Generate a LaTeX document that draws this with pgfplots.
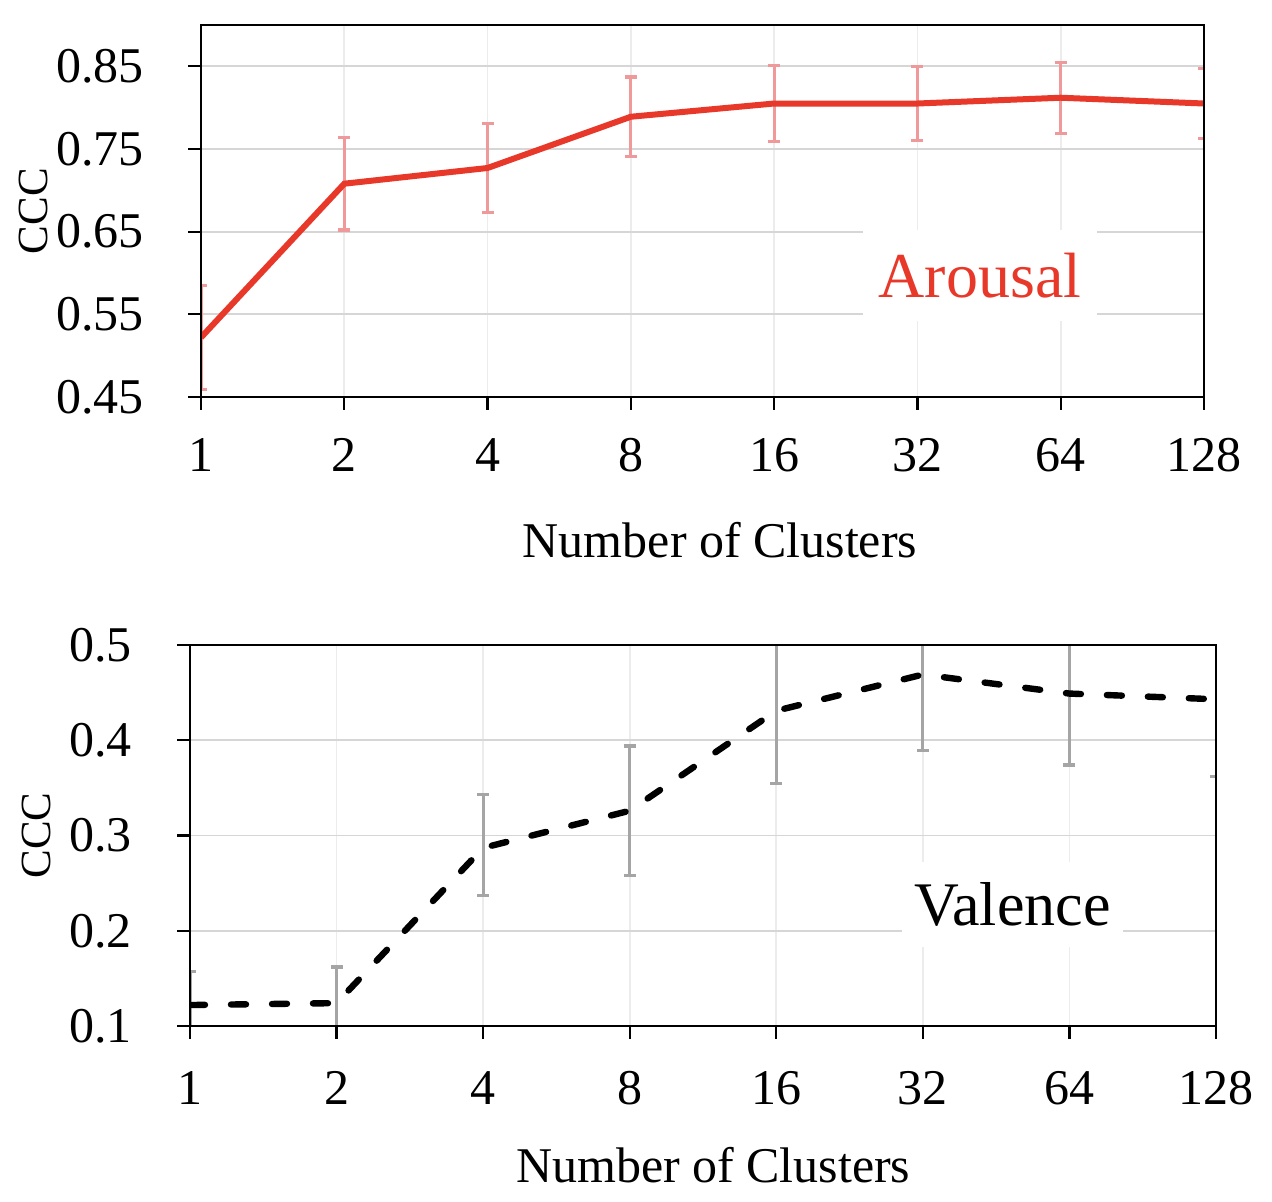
\documentclass[border=0pt]{standalone}
\usepackage{fontspec}
\setmainfont{Liberation Serif}
\usepackage{pgfplots}
\pgfplotsset{compat=1.18}
\definecolor{aro}{HTML}{E8382A}
\definecolor{aroerr}{HTML}{F0999A}
\definecolor{valerr}{HTML}{A5A5A5}
\definecolor{hgrid}{HTML}{D6D6D6}
\definecolor{vgrid}{HTML}{ECECEC}
\pgfplotsset{
 common/.style={
  scale only axis,
  xmin=0, xmax=7,
  xtick={0,1,2,3,4,5,6,7},
  xticklabels={1,2,4,8,16,32,64,128},
  axis x line*=bottom, axis y line*=left,
  axis background/.style={draw=black, line width=1.1pt},
  tick align=outside,
  major tick length=6.5pt,
  tick style={black, line width=1.1pt},
  axis line style={black, line width=1.1pt, -},
  grid=major,
  x grid style={vgrid, line width=0.9pt},
  y grid style={hgrid, line width=0.9pt},
  ticklabel style={font=\fontsize{25}{30}\selectfont, inner sep=0pt},
  xticklabel style={anchor=north},
  yticklabel style={anchor=east},
  xlabel style={font=\fontsize{25}{30}\selectfont, anchor=center},
  ylabel style={font=\fontsize{21.5}{26}\selectfont, anchor=center},
 }
}
\begin{document}
\begin{tikzpicture}
\path[use as bounding box] (0,0) rectangle (636pt,601pt);
% ---------------- Arousal ----------------
\begin{axis}[common,
  at={(100.5pt,402.5pt)}, anchor=south west,
  width=501.5pt, height=186pt,
  ymin=0.45, ymax=0.9,
  ytick={0.45,0.55,0.65,0.75,0.85},
  yticklabels={0.45,0.55,0.65,0.75,0.85},
  xticklabel style={yshift=-14pt},
  yticklabel style={xshift=-22pt},
  xlabel={Number of Clusters},
  ylabel={CCC},
  xlabel style={at={(axis description cs:0.5175,-0.384)}},
  ylabel style={at={(axis description cs:-0.1675,0.5)}},
]
\addplot[draw=none, mark=none,
  error bars/.cd, y dir=both, y explicit,
  error bar style={draw=aroerr, line width=1.5pt},
  error mark options={draw=aroerr, rotate=90, mark size=3pt, line width=1.6pt}]
  coordinates {
  (0,0.522) +- (0,0.063)
  (1,0.708) +- (0,0.056)
  (2,0.727) +- (0,0.054)
  (3,0.789) +- (0,0.048)
  (4,0.805) +- (0,0.046)
  (5,0.805) +- (0,0.045)
  (6,0.812) +- (0,0.043)
  (7,0.805) +- (0,0.042)
};
\addplot[aro, line width=3pt, mark=none] coordinates {
  (0,0.522) (1,0.708) (2,0.727) (3,0.789) (4,0.805) (5,0.805) (6,0.812) (7,0.805)
};
\node[fill=white, text=aro, font=\fontsize{32}{38}\selectfont, inner xsep=8pt, inner ysep=11.7pt]
  at (axis cs:5.436,0.597) {Arousal};
\end{axis}
\draw[black, line width=1.1pt] (100.5pt,402.5pt) rectangle (602pt,588.5pt);
% ---------------- Valence ----------------
\begin{axis}[common,
  at={(95pt,88pt)}, anchor=south west,
  width=513pt, height=190.5pt,
  ymin=0.1, ymax=0.5,
  ytick={0.1,0.2,0.3,0.4,0.5},
  yticklabels={0.1,0.2,0.3,0.4,0.5},
  xticklabel style={yshift=-16pt},
  yticklabel style={xshift=-22.5pt},
  xlabel={Number of Clusters},
  ylabel={CCC},
  xlabel style={at={(axis description cs:0.51,-0.365)}},
  ylabel style={at={(axis description cs:-0.15,0.5)}},
]
\addplot[draw=none, mark=none,
  error bars/.cd, y dir=both, y explicit,
  error bar style={draw=valerr, line width=1.5pt},
  error mark options={draw=valerr, rotate=90, mark size=3pt, line width=1.6pt}]
  coordinates {
  (0,0.122) +- (0,0.035)
  (1,0.124) +- (0,0.038)
  (2,0.290) +- (0,0.053)
  (3,0.326) +- (0,0.068)
  (4,0.431) +- (0,0.076)
  (5,0.469) +- (0,0.080)
  (6,0.449) +- (0,0.075)
  (7,0.443) +- (0,0.081)
};
\addplot[black, line width=3.2pt, line cap=round, dash pattern=on 7.5pt off 13pt, mark=none] coordinates {
  (0,0.122) (1,0.124) (2,0.287) (3,0.326) (4,0.431) (5,0.469) (6,0.449) (7,0.443)
};
\node[fill=white, text=black, font=\fontsize{31}{37}\selectfont, inner xsep=6pt, inner ysep=10.2pt]
  at (axis cs:5.612,0.2276) {Valence};
\end{axis}
\draw[black, line width=1.1pt] (95pt,88pt) rectangle (608pt,278.5pt);
\end{tikzpicture}
\end{document}
